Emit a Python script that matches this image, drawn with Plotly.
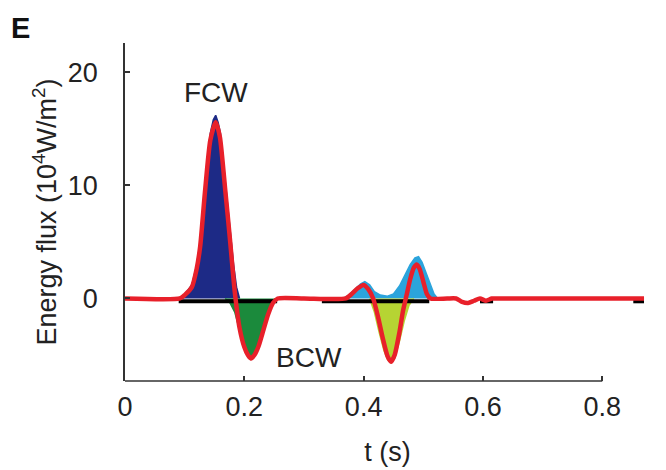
import plotly.graph_objects as go

# ---- data ----
# forward compression wave (positive, dark blue)
fcw_t = [0.090, 0.100, 0.112, 0.120, 0.126, 0.134, 0.143, 0.148, 0.152, 0.156, 0.160, 0.168, 0.176, 0.182, 0.187, 0.192]
fcw_v = [0.0, 0.35, 1.2, 2.9, 5.0, 10.0, 14.6, 15.8, 16.2, 15.6, 14.6, 10.2, 6.0, 3.0, 1.0, 0.0]

# backward compression wave (negative, green)
bcw_t = [0.168, 0.176, 0.184, 0.192, 0.200, 0.206, 0.211, 0.217, 0.224, 0.232, 0.240, 0.246, 0.252]
bcw_v = [0.0, -0.4, -1.2, -2.8, -4.4, -5.1, -5.4, -5.1, -4.3, -2.9, -1.4, -0.5, 0.0]

# later forward waves (light blue)
fw2_t = [0.366, 0.375, 0.385, 0.395, 0.402, 0.410, 0.418, 0.428, 0.440, 0.450, 0.460, 0.470, 0.478, 0.486, 0.492, 0.498, 0.505, 0.512, 0.518, 0.524]
fw2_v = [0.0, 0.3, 0.8, 1.3, 1.5, 1.2, 0.6, 0.3, 0.2, 0.4, 1.1, 2.1, 3.0, 3.6, 3.7, 3.2, 2.2, 1.2, 0.4, 0.0]

# later backward wave (yellow-green)
bw2_t = [0.410, 0.418, 0.426, 0.434, 0.440, 0.446, 0.452, 0.460, 0.468, 0.476, 0.484]
bw2_v = [0.0, -1.2, -3.0, -4.6, -5.4, -5.7, -5.3, -3.8, -2.0, -0.6, 0.0]

# net energy flux (red)
net_t = [0.000, 0.092, 0.100, 0.112, 0.120, 0.126, 0.134, 0.143, 0.152, 0.159, 0.168, 0.176, 0.184,
         0.192, 0.200, 0.206, 0.211, 0.217, 0.224, 0.232, 0.240, 0.248, 0.256, 0.300, 0.370,
         0.380, 0.390, 0.400, 0.408, 0.416, 0.424, 0.432, 0.440, 0.446, 0.452, 0.460, 0.466,
         0.472, 0.478, 0.484, 0.489, 0.494, 0.500, 0.506, 0.512, 0.540, 0.555, 0.565, 0.575,
         0.585, 0.595, 0.605, 0.615, 0.625, 0.700, 0.800, 0.870]
net_v = [0.0, 0.0, 0.3, 1.0, 2.6, 4.6, 9.4, 14.0, 15.6, 14.3, 9.6, 5.2, 0.6,
         -2.6, -4.3, -5.0, -5.3, -5.0, -4.2, -2.8, -1.4, -0.4, 0.0, 0.0, 0.0,
         0.4, 0.9, 1.2, 0.8, 0.0, -1.6, -3.5, -5.1, -5.6, -5.0, -3.0, -1.1,
         0.3, 1.7, 2.7, 3.0, 2.6, 1.5, 0.4, 0.0, 0.0, 0.0, -0.3, -0.4,
         -0.2, 0.0, -0.2, 0.0, 0.0, 0.0, 0.0, 0.0]

# black baseline pieces under the waves
base_t = [0.090, 0.255, None, 0.330, 0.510, None, 0.595, 0.617, None, 0.852, 0.870]
base_v = [-0.25, -0.25, None, -0.25, -0.25, None, -0.25, -0.25, None, -0.25, -0.25]

x_ticks = [0, 0.2, 0.4, 0.6, 0.8]
x_tick_text = ["0", "0.2", "0.4", "0.6", "0.8"]
y_ticks = [0, 10, 20]
y_tick_text = ["0", "10", "20"]

FONT = "Liberation Sans, Arial, sans-serif"
TXT = "#222222"
AX = "#333333"

fig = go.Figure()

def area(t, v, color):
    fig.add_trace(go.Scatter(x=t, y=v, mode="lines", fill="tozeroy",
                             fillcolor=color, line=dict(color=color, width=1.5),
                             hoverinfo="skip", showlegend=False))

area(fcw_t, fcw_v, "#1d2a86")
area(bcw_t, bcw_v, "#1b8a3c")
area(fw2_t, fw2_v, "#2ba4dc")
area(bw2_t, bw2_v, "#b6d433")

fig.add_trace(go.Scatter(x=base_t, y=base_v, mode="lines",
                         line=dict(color="#000000", width=4),
                         connectgaps=False, hoverinfo="skip", showlegend=False))

fig.add_trace(go.Scatter(x=net_t, y=net_v, mode="lines",
                         line=dict(color="#e8202a", width=4.5, shape="spline", smoothing=0.6),
                         hoverinfo="skip", showlegend=False))

# the page body adds an 8px offset, so the figure is sized to fit the window
fig.update_layout(
    width=658, height=462,
    margin=dict(l=117, r=16, t=35, b=89),
    paper_bgcolor="white", plot_bgcolor="white",
    font=dict(family=FONT, size=27, color=TXT),
    showlegend=False,
    xaxis=dict(range=[0, 0.88], tickvals=x_ticks, ticktext=x_tick_text,
               ticks="inside", ticklen=5, tickcolor=AX, tickwidth=1.5,
               showline=False, showgrid=False, zeroline=False, automargin=False,
               ticklabelstandoff=7, tickfont=dict(size=27),
               title=dict(text="t (s)", standoff=21, font=dict(size=27))),
    yaxis=dict(range=[-7.3, 22.6], tickvals=y_ticks, ticktext=y_tick_text,
               ticks="inside", ticklen=5, tickcolor=AX, tickwidth=1.5,
               showline=True, linecolor=AX, linewidth=1.5, mirror=False,
               showgrid=False, zeroline=False, automargin=False,
               ticklabelstandoff=20, tickfont=dict(size=27),
               title=dict(text="Energy flux (10<sup>4</sup>W/m<sup>2</sup>)", standoff=3,
                          font=dict(size=27))),
    shapes=[dict(type="line", xref="x", yref="paper", x0=0, x1=0.8, y0=0, y1=0,
                 line=dict(color=AX, width=1.5))],
    annotations=[
        dict(text="<b>E</b>", xref="paper", yref="paper", x=-0.2, y=1.045,
             xanchor="center", yanchor="middle", showarrow=False,
             font=dict(size=29, color="#111111")),
        dict(text="FCW", xref="x", yref="y", x=0.1526, y=18.2, showarrow=False,
             xanchor="center", yanchor="middle", font=dict(size=28, color=TXT)),
        dict(text="BCW", xref="x", yref="y", x=0.3086, y=-5.2, showarrow=False,
             xanchor="center", yanchor="middle", font=dict(size=28, color=TXT)),
    ],
)

fig.write_html("out.html")
